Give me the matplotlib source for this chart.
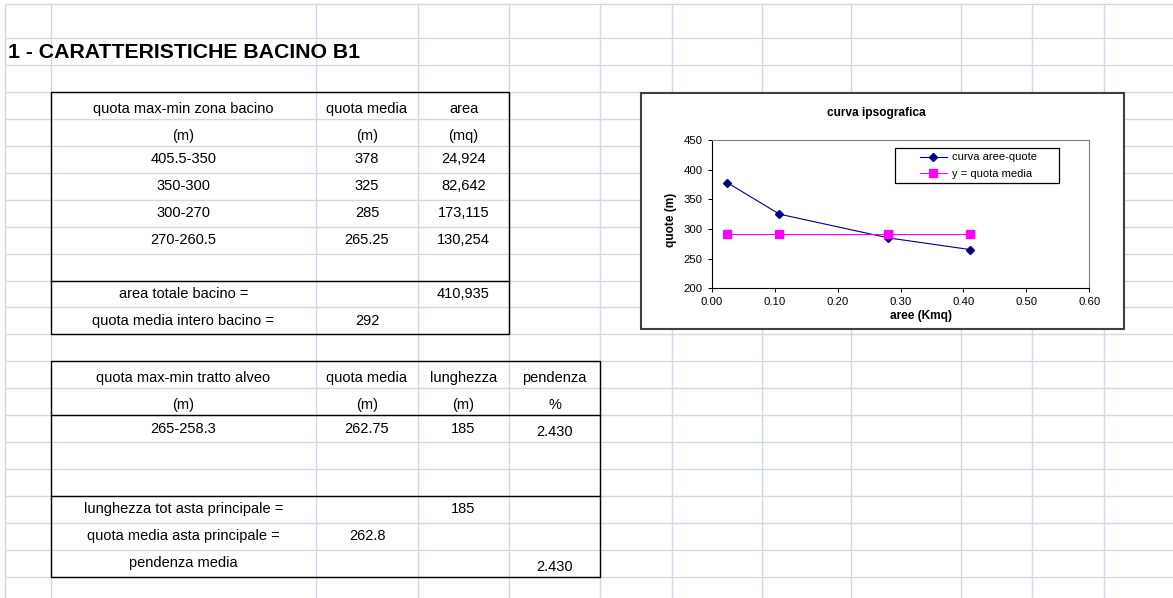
"""Scheda bacino B1: tabelle di sintesi e curva ipsografica su griglia foglio."""

import matplotlib.pyplot as plt
from matplotlib.patches import Rectangle

# --- tabella bacino ---
zone_header = ["quota max-min zona bacino", "quota media", "area"]
zone_units = ["(m)", "(m)", "(mq)"]
zone_ranges = ["405.5-350", "350-300", "300-270", "270-260.5"]
zone_quota = [378, 325, 285, 265.25]
zone_area = [24924, 82642, 173115, 130254]
area_totale = 410935
quota_media_bacino = 292

# --- tabella alveo ---
alveo_header = ["quota max-min tratto alveo", "quota media", "lunghezza", "pendenza"]
alveo_units = ["(m)", "(m)", "(m)", "%"]
alveo_range = "265-258.3"
alveo_quota = 262.75
alveo_lunghezza = 185
alveo_pendenza = 2.430
lunghezza_tot = 185
quota_media_asta = 262.8
pendenza_media = 2.430

# --- curva ipsografica ---
aree_cum_kmq = [0.0249, 0.1076, 0.2807, 0.4109]
quote_curva = zone_quota
quota_media_line = [quota_media_bacino] * len(aree_cum_kmq)

W, H = 1173, 598
FONT = "Liberation Sans"
GRID = "#D0D7E5"

col_edges = [5, 50.7, 316, 418, 509, 600, 672, 762, 851, 961, 1032, 1104]
row_edges = [4, 38.3] + [65.2 + 26.92 * k for k in range(21)]


def row_mid(k, dy=0.0):
    return row_edges[2 + k] + 13.46 + dy


def col_mid(c):
    return (col_edges[1 + c] + col_edges[2 + c]) / 2


def fmt(v):
    return f"{v:g}"


fig = plt.figure(figsize=(W / 100, H / 100), dpi=100)
bg = fig.add_axes([0, 0, 1, 1])
bg.set_xlim(0, W)
bg.set_ylim(H, 0)
bg.axis("off")

# griglia del foglio
bg.vlines(col_edges, 4, H, color=GRID, lw=1.0, zorder=1)
bg.hlines(row_edges, 5, W, color=GRID, lw=1.0, zorder=1)

bg.text(8, row_mid(-1) + 0.5, "1 - CARATTERISTICHE BACINO B1", fontsize=15.3,
        fontweight="bold", family=FONT, ha="left", va="center")


def cell(c, k, s, dy=0.0):
    bg.text(col_mid(c), row_mid(k, dy), s, fontsize=10.5, family=FONT,
            ha="center", va="center", zorder=3)


def frame(x0, x1, y0, y1, seps):
    bg.add_patch(Rectangle((x0, y0), x1 - x0, y1 - y0, fill=False,
                           ec="black", lw=1.0, zorder=2))
    for y in seps:
        bg.plot([x0, x1], [y, y], color="black", lw=1.0, zorder=2)


# tabella 1
frame(col_edges[1], col_edges[4], row_edges[3], row_edges[12], [row_edges[10]])
for c, s in enumerate(zone_header):
    cell(c, 1, s, 3.5)
for c, s in enumerate(zone_units):
    cell(c, 2, s, 3.5)
for i, (r, q, a) in enumerate(zip(zone_ranges, zone_quota, zone_area)):
    cell(0, 3 + i, r)
    cell(1, 3 + i, fmt(q))
    cell(2, 3 + i, f"{a:,}")
cell(0, 8, "area totale bacino =")
cell(2, 8, f"{area_totale:,}")
cell(0, 9, "quota media intero bacino =")
cell(1, 9, fmt(quota_media_bacino))

# tabella 2
frame(col_edges[1], col_edges[5], row_edges[13], row_edges[21],
      [row_edges[15], row_edges[18]])
for c, s in enumerate(alveo_header):
    cell(c, 11, s, 3.5)
for c, s in enumerate(alveo_units):
    cell(c, 12, s, 3.5)
cell(0, 13, alveo_range)
cell(1, 13, fmt(alveo_quota))
cell(2, 13, fmt(alveo_lunghezza))
cell(3, 13, f"{alveo_pendenza:.3f}", 3.5)
cell(0, 16, "lunghezza tot asta principale =")
cell(2, 16, fmt(lunghezza_tot))
cell(0, 17, "quota media asta principale =")
cell(1, 17, fmt(quota_media_asta))
cell(0, 18, "pendenza media")
cell(3, 18, f"{pendenza_media:.3f}", 3.5)

# riquadro grafico
bg.add_patch(Rectangle((641, 93), 1124 - 641, 329 - 93, fc="white",
                       ec="#404040", lw=1.5, zorder=4))
bg.add_patch(Rectangle((895.3, 148.3), 1059 - 895.3, 182.7 - 148.3, fill=False,
                       ec="black", lw=0.9, zorder=5))
bg.text(876.7, 113.3, "curva ipsografica", fontsize=8.6, fontweight="bold",
        family=FONT, ha="center", va="center", zorder=5)
bg.text(671, 220, "quote (m)", fontsize=8.6, fontweight="bold", family=FONT,
        rotation=90, ha="center", va="center", zorder=5)
bg.text(921, 315.7, "aree (Kmq)", fontsize=8.6, fontweight="bold", family=FONT,
        ha="center", va="center", zorder=5)

x0, x1, y0, y1 = 711.7, 1089.3, 140, 288.3
ax = fig.add_axes([x0 / W, 1 - y1 / H, (x1 - x0) / W, (y1 - y0) / H])
ax.set_facecolor("none")
ax.plot(aree_cum_kmq, quote_curva, color="#000080", lw=0.8, marker="D",
        ms=3.8, label="curva aree-quote")
ax.plot(aree_cum_kmq, quota_media_line, color="#FF00FF", lw=0.8, marker="s",
        ms=5.5, label="y = quota media")
ax.set_xlim(0, 0.6)
ax.set_ylim(200, 450)
ax.set_xticks([0.0, 0.1, 0.2, 0.3, 0.4, 0.5, 0.6])
ax.set_xticklabels([f"{v:.2f}" for v in ax.get_xticks()])
ax.set_yticks([200, 250, 300, 350, 400, 450])
ax.tick_params(direction="out", length=3, width=0.75, labelsize=8.2, pad=3.5)
for lab in ax.get_xticklabels() + ax.get_yticklabels():
    lab.set_family(FONT)
for side in ("left", "bottom"):
    ax.spines[side].set_color("black")
    ax.spines[side].set_linewidth(0.8)
for side in ("top", "right"):
    ax.spines[side].set_color("#808080")
    ax.spines[side].set_linewidth(0.8)

handles, labels = ax.get_legend_handles_labels()
ax.legend(handles, labels, loc="center left", frameon=False,
          bbox_to_anchor=(920 / W, 1 - 165.5 / H), bbox_transform=fig.transFigure,
          borderpad=0, borderaxespad=0, handlelength=2.4, handletextpad=0.5,
          labelspacing=0.55, numpoints=1, prop={"family": FONT, "size": 8})

fig.savefig("out.png", dpi=100)
